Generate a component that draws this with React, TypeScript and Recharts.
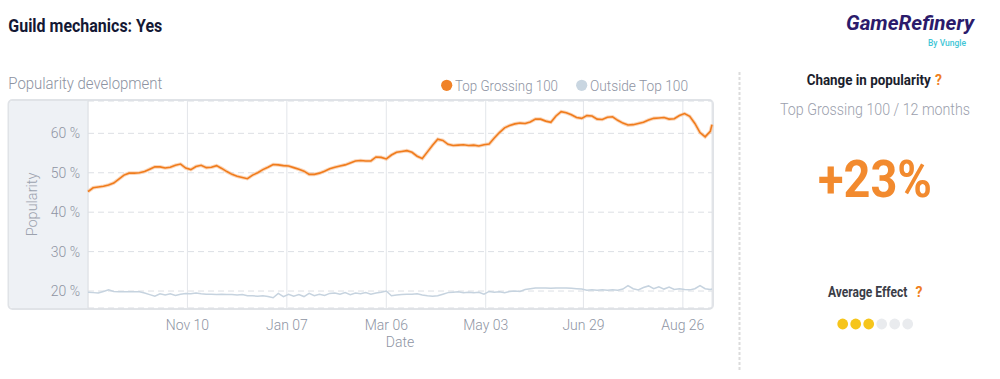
import React from "react";
import { LineChart, Line, XAxis, YAxis, CartesianGrid } from "recharts";

// day index counted from Sep 13 (day 0) to Sep 12 (day 364)
const dayIndex = [
  0, 3, 6, 9, 12, 15, 18, 21, 24, 27,
  30, 33, 36, 39, 42, 45, 48, 51, 54, 57,
  60, 63, 66, 69, 72, 75, 78, 81, 84, 87,
  90, 93, 96, 99, 102, 105, 108, 111, 114, 117,
  120, 123, 126, 129, 132, 135, 138, 141, 144, 147,
  150, 153, 156, 159, 162, 165, 168, 171, 174, 177,
  180, 183, 186, 189, 192, 195, 198, 201, 204, 207,
  210, 213, 216, 219, 222, 225, 228, 231, 234, 237,
  240, 243, 246, 249, 252, 255, 258, 261, 264, 267,
  270, 273, 276, 279, 282, 285, 288, 291, 294, 297,
  300, 303, 306, 309, 312, 315, 318, 321, 324, 327,
  330, 333, 336, 339, 342, 345, 348, 351, 354, 357,
  360, 363, 364,
];

const topGrossing100 = [
  45.2, 46.2, 46.4, 46.6, 46.9, 47.4, 48.4, 49.4, 49.9, 49.9,
  50.0, 50.3, 50.9, 51.5, 51.5, 51.2, 51.4, 51.9, 52.2, 51.2,
  50.8, 51.6, 51.9, 51.3, 51.4, 51.8, 51.1, 50.3, 49.6, 49.1,
  48.8, 48.5, 49.4, 50.0, 50.8, 51.4, 52.1, 52.0, 51.8, 51.7,
  51.3, 50.9, 50.4, 49.6, 49.6, 49.9, 50.4, 51.0, 51.4, 51.7,
  52.0, 52.5, 53.0, 53.1, 53.0, 53.0, 54.0, 53.9, 53.5, 54.5,
  55.2, 55.4, 55.6, 55.2, 54.2, 53.6, 55.3, 57.0, 58.5, 58.2,
  57.2, 56.9, 57.0, 57.1, 56.9, 57.0, 56.8, 57.1, 57.3, 58.8,
  60.2, 61.4, 62.0, 62.4, 62.6, 62.5, 62.9, 63.6, 63.6, 63.1,
  62.8, 64.4, 65.5, 65.2, 64.7, 64.0, 63.8, 64.5, 64.4, 63.6,
  63.5, 64.1, 64.2, 63.3, 62.6, 62.1, 62.2, 62.5, 62.8, 63.4,
  63.8, 63.9, 64.0, 63.6, 63.7, 64.5, 65.0, 64.3, 62.5, 60.2,
  59.1, 60.5, 62.2,
];

const outsideTop100 = [
  19.7, 19.6, 19.5, 19.9, 20.3, 19.9, 19.8, 19.8, 19.8, 19.8,
  19.8, 19.5, 19.1, 18.7, 19.3, 19.0, 19.3, 18.9, 19.2, 19.4,
  19.3, 19.5, 19.3, 19.2, 19.2, 19.1, 19.2, 19.1, 19.1, 19.0,
  19.1, 18.8, 18.8, 18.7, 18.8, 18.6, 18.3, 19.4, 18.6, 19.2,
  18.7, 19.1, 18.6, 19.4, 18.8, 19.2, 18.9, 19.4, 19.5, 19.2,
  19.6, 19.1, 19.5, 19.3, 19.6, 19.2, 19.5, 19.7, 20.0, 18.8,
  19.0, 19.1, 19.2, 19.2, 19.3, 19.0, 18.8, 18.7, 18.8, 19.2,
  19.6, 19.7, 19.8, 19.6, 19.7, 19.6, 19.7, 19.2, 19.9, 19.7,
  19.8, 19.6, 19.9, 20.0, 19.9, 20.4, 20.6, 20.8, 20.8, 20.8,
  20.7, 20.8, 20.8, 20.8, 20.7, 20.6, 20.5, 20.2, 20.3, 20.2,
  20.3, 20.2, 20.3, 20.2, 20.5, 21.4, 20.6, 20.3, 20.9, 21.3,
  20.6, 21.1, 20.5, 21.0, 20.4, 20.6, 20.4, 20.3, 20.6, 21.4,
  20.6, 20.4, 20.5,
];

const xTickDays = [58, 116, 174, 232, 289, 347];
const xTickLabels = ["Nov 10", "Jan 07", "Mar 06", "May 03", "Jun 29", "Aug 26"];
const yTickValues = [20, 30, 40, 50, 60];
const seriesNames = ["Top Grossing 100", "Outside Top 100"];
const seriesColors = ["#f07c1c", "#c6d3df"];
const legendDotColors = ["#f08228", "#c9d6e1"];
const changeValue = "+23%";
const effectDots = [1, 1, 1, 0, 0, 0];

const data = dayIndex.map((day, i) => ({
  day,
  top: topGrossing100[i],
  outside: outsideTop100[i],
}));

const FONT = "Roboto, 'Noto Sans', sans-serif";
const GRAY = "#8e94a3";
const ORANGE = "#f07f1e";

const yLabel = (props: any) => {
  const vb = props.viewBox || { x: 9, y: 101, width: 79, height: 207 };
  const cx = vb.x + 28;
  const cy = vb.y + vb.height / 2;
  return (
    <text
      x={cx}
      y={cy}
      transform={`rotate(-90 ${cx} ${cy})`}
      textAnchor="middle"
      fill="#9ca2ae"
      fontSize={14.5}
      fontFamily={FONT}
      fontWeight={300}
    >
      Popularity
    </text>
  );
};

export default function App() {
  return (
    <div
      style={{
        position: "absolute",
        left: 0,
        top: 0,
        width: 1000,
        height: 379,
        background: "#ffffff",
        overflow: "hidden",
        fontFamily: FONT,
      }}
    >
      <svg
        width={1000}
        height={379}
        style={{ position: "absolute", left: 0, top: 0 }}
        fontFamily={FONT}
      >
        {/* header */}
        <text x={8.3} y={31.5} fontSize={17.5} fontWeight={700} fill="#141834" textLength={154} lengthAdjust="spacingAndGlyphs">
          Guild mechanics: Yes
        </text>
        <text x={846} y={30} fontSize={21} fontWeight={700} fontStyle="italic" fill="#2b1b6b" textLength={128} lengthAdjust="spacingAndGlyphs">
          GameRefinery
        </text>
        <text x={928} y={45.5} fontSize={9} fontWeight={500} fill="#3fc6d6" textLength={38} lengthAdjust="spacingAndGlyphs">
          By Vungle
        </text>

        {/* chart header */}
        <text x={8.3} y={89} fontSize={16} fontWeight={300} fill="#8c92a1" textLength={154} lengthAdjust="spacingAndGlyphs">
          Popularity development
        </text>
        <circle cx={446.7} cy={85.3} r={5.6} fill={legendDotColors[0]} />
        <text x={455} y={90.7} fontSize={15} fontWeight={300} fill={GRAY} textLength={103} lengthAdjust="spacingAndGlyphs">
          {seriesNames[0]}
        </text>
        <circle cx={581.7} cy={85.3} r={5.6} fill={legendDotColors[1]} />
        <text x={590} y={90.7} fontSize={15} fontWeight={300} fill={GRAY} textLength={98} lengthAdjust="spacingAndGlyphs">
          {seriesNames[1]}
        </text>

        {/* chart frame */}
        <rect x={8.5} y={100} width={704.5} height={209} rx={4} ry={4} fill="#ffffff" stroke="#e0e3e7" strokeWidth={2} />
        <path d="M 88 101 L 13 101 Q 9.5 101 9.5 104.5 L 9.5 304.5 Q 9.5 308 13 308 L 88 308 Z" fill="#eef1f5" />
        <line x1={88} y1={101} x2={88} y2={308} stroke="#dde0e4" strokeWidth={1} />

        {/* divider */}
        <line x1={739.5} y1={72} x2={739.5} y2={370} stroke="#dcdcdc" strokeWidth={2} strokeDasharray="3 2" />

        {/* right panel */}
        <text x={806.7} y={85} fontSize={14} fontWeight={700} fill="#1b1e2d" textLength={124} lengthAdjust="spacingAndGlyphs">
          Change in popularity
        </text>
        <text x={935} y={85} fontSize={14} fontWeight={700} fill={ORANGE}>
          ?
        </text>
        <text x={780} y={115} fontSize={16} fontWeight={300} fill="#9ba0ad" textLength={190} lengthAdjust="spacingAndGlyphs">
          Top Grossing 100 / 12 months
        </text>
        <text x={818} y={197} fontSize={52} fontWeight={700} fill="#f28a2e" textLength={114} lengthAdjust="spacingAndGlyphs">
          {changeValue}
        </text>
        <text transform="translate(828 297) scale(0.86 1)" x={0} y={0} fontSize={14} fontWeight={700} fill="#3a3d47">
          Average Effect
        </text>
        <text x={915.5} y={297} fontSize={14} fontWeight={700} fill={ORANGE}>
          ?
        </text>
        {effectDots.map((on, i) => (
          <circle key={i} cx={842.7 + i * 13} cy={324} r={5.4} fill={on ? "#f6c51b" : "#e9ebee"} />
        ))}
      </svg>

      <div style={{ position: "absolute", left: 0, top: 0 }}>
        <LineChart
          width={720}
          height={360}
          data={data}
          margin={{ top: 101, right: 8, bottom: 12, left: 9 }}
        >
          <CartesianGrid horizontal={false} stroke="#e3e6ea" strokeWidth={1} />
          <CartesianGrid vertical={false} stroke="#dcdfe4" strokeDasharray="6 4" strokeWidth={1} />
          <XAxis
            dataKey="day"
            type="number"
            domain={[0, 364]}
            ticks={xTickDays}
            interval={0}
            tickFormatter={(v: number) => xTickLabels[xTickDays.indexOf(v)] ?? ""}
            axisLine={false}
            tickLine={false}
            height={40}
            tickMargin={6}
            tick={{ fill: GRAY, fontSize: 14, fontFamily: FONT, fontWeight: 300 }}
            label={{ value: "Date", position: "insideBottom", offset: 1, fill: GRAY, fontSize: 14, fontFamily: FONT, fontWeight: 300 }}
          />
          <YAxis
            type="number"
            domain={[15.7, 68.2]}
            ticks={yTickValues}
            interval={0}
            allowDataOverflow
            tickFormatter={(v: number) => `${v} %`}
            axisLine={false}
            tickLine={false}
            width={79}
            tick={{ fill: GRAY, fontSize: 14, fontFamily: FONT, fontWeight: 300 }}
            label={yLabel}
          />
          <Line
            type="linear"
            dataKey="outside"
            name={seriesNames[1]}
            stroke={seriesColors[1]}
            strokeWidth={1.5}
            dot={false}
            activeDot={false}
            isAnimationActive={false}
          />
          <Line
            type="linear"
            dataKey="top"
            name={seriesNames[0] + " halo"}
            stroke="#f8bb8c"
            strokeOpacity={0.6}
            strokeWidth={3.6}
            dot={false}
            activeDot={false}
            legendType="none"
            isAnimationActive={false}
          />
          <Line
            type="linear"
            dataKey="top"
            name={seriesNames[0]}
            stroke={seriesColors[0]}
            strokeWidth={1.6}
            dot={false}
            activeDot={false}
            isAnimationActive={false}
          />
        </LineChart>
      </div>
    </div>
  );
}
